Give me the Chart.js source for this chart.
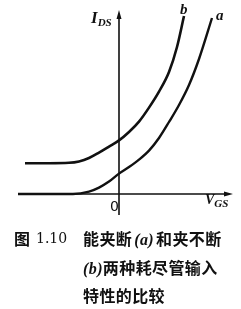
<!DOCTYPE html>
<html>
<head>
<meta charset="utf-8">
<script src="https://cdn.jsdelivr.net/npm/chart.js@4/dist/chart.umd.min.js"></script>
<style>
  html, body { margin: 0; padding: 0; background: #fff; }
  #wrap { position: relative; width: 241px; height: 309px; overflow: hidden; }
  #grafico { position: absolute; left: 0; top: 0; }
  .lbl { position: absolute; font-family: "Liberation Serif", "DejaVu Serif", serif; font-style: italic; font-weight: bold; color: #111; white-space: nowrap; line-height: 1; }
  .sub { font-size: 11px; position: relative; top: 3px; }
  .cap { position: absolute; font-family: "Noto Sans CJK SC", sans-serif; font-weight: bold; font-size: 16px; color: #111; white-space: nowrap; line-height: 26.5px; letter-spacing: 0.4px; }
  .it { font-family: "Liberation Serif", serif; font-style: italic; font-weight: bold; }
</style>
</head>
<body>
<div id="wrap">
  <canvas id="grafico" width="241" height="309"></canvas>
  <span class="lbl" style="left:91px;top:9px;font-size:17px;">I<span class="sub">DS</span></span>
  <span class="lbl" style="left:180px;top:2px;font-size:15px;">b</span>
  <span class="lbl" style="left:216px;top:8px;font-size:15px;">a</span>
  <span class="lbl" style="left:205px;top:193px;font-size:14px;">V<span class="sub">GS</span></span>
  <span class="lbl" style="left:110px;top:199px;font-size:14px;font-style:normal;font-weight:normal;font-family:'DejaVu Sans';">0</span>
  <span class="cap" style="left:14px;top:225px;">图</span>
  <span class="cap" style="left:36px;top:225px;font-family:'DejaVu Serif',serif;font-weight:normal;font-size:14px;letter-spacing:0;">1.10</span>
  <span class="cap" style="left:83px;top:225px;">能夹断<span class="it" style="padding:0 2px;">(a)</span>和夹不断<br><span class="it">(b)</span>两种耗尽管输入<br>特性的比较</span>
</div>
<script>
// curva b: no llega a cortarse (corriente minima distinta de cero)
var vgsB = [-4.7, -3.5, -2.5, -2.0, -1.5, -1.0, -0.5, 0, 0.5, 1.0, 1.5, 2.0, 2.5, 2.9, 3.25];
var idsB = [1.54, 1.54, 1.56, 1.63, 1.8, 2.07, 2.37, 2.68, 3.1, 3.62, 4.32, 5.12, 6.1, 7.35, 8.9];
// curva a: se corta (corriente cero)
var vgsA = [-5.05, -3.5, -2.3, -1.5, -1.0, -0.5, 0, 0.5, 1.0, 1.5, 2.0, 2.5, 3.0, 3.5, 4.0, 4.65];
var idsA = [0, 0, 0, 0.12, 0.32, 0.62, 1.02, 1.35, 1.72, 2.17, 2.8, 3.6, 4.45, 5.45, 6.75, 8.8];

function puntos(xs, ys) {
  var res = [];
  for (var i = 0; i < xs.length; i++) {
    res.push({x: xs[i], y: ys[i]});
  }
  return res;
}

// ejes con flechas, dibujados con las escalas
var ejes = {
  id: 'ejes',
  beforeDatasetsDraw: function(chart) {
    var ctx = chart.ctx;
    var sx = chart.scales.x, sy = chart.scales.y;
    var x0 = sx.getPixelForValue(0), y0 = sy.getPixelForValue(0);
    var xIni = sx.getPixelForValue(-5.05), xFin = sx.getPixelForValue(5.7);
    var yIni = sy.getPixelForValue(-1.05), yFin = sy.getPixelForValue(9.2);
    ctx.save();
    ctx.strokeStyle = '#111';
    ctx.fillStyle = '#111';
    ctx.lineWidth = 1.6;
    ctx.beginPath();
    ctx.moveTo(xIni, y0); ctx.lineTo(xFin - 4, y0);
    ctx.moveTo(x0, yIni); ctx.lineTo(x0, yFin + 4);
    ctx.stroke();
    ctx.beginPath();
    ctx.moveTo(xFin, y0); ctx.lineTo(xFin - 9, y0 - 2.5); ctx.lineTo(xFin - 9, y0 + 2.5); ctx.closePath();
    ctx.moveTo(x0, yFin); ctx.lineTo(x0 - 2.5, yFin + 9); ctx.lineTo(x0 + 2.5, yFin + 9); ctx.closePath();
    ctx.fill();
    ctx.restore();
  }
};

var ctx = document.getElementById('grafico').getContext('2d');
var grafico = new Chart(ctx, {
  type: 'scatter',
  data: {
    datasets: [{
      label: 'b',
      data: puntos(vgsB, idsB),
      showLine: true,
      borderColor: '#111',
      borderWidth: 2.6,
      pointRadius: 0,
      cubicInterpolationMode: 'monotone'
    }, {
      label: 'a',
      data: puntos(vgsA, idsA),
      showLine: true,
      borderColor: '#111',
      borderWidth: 2.4,
      pointRadius: 0,
      cubicInterpolationMode: 'monotone'
    }]
  },
  options: {
    responsive: false,
    animation: false,
    layout: { padding: 0 },
    plugins: { legend: { display: false }, tooltip: { enabled: false } },
    scales: {
      x: { type: 'linear', display: false, min: -5.95, max: 6.1 },
      y: { type: 'linear', display: false, min: -5.75, max: 9.7 }
    }
  },
  plugins: [ejes]
});
</script>
</body>
</html>
